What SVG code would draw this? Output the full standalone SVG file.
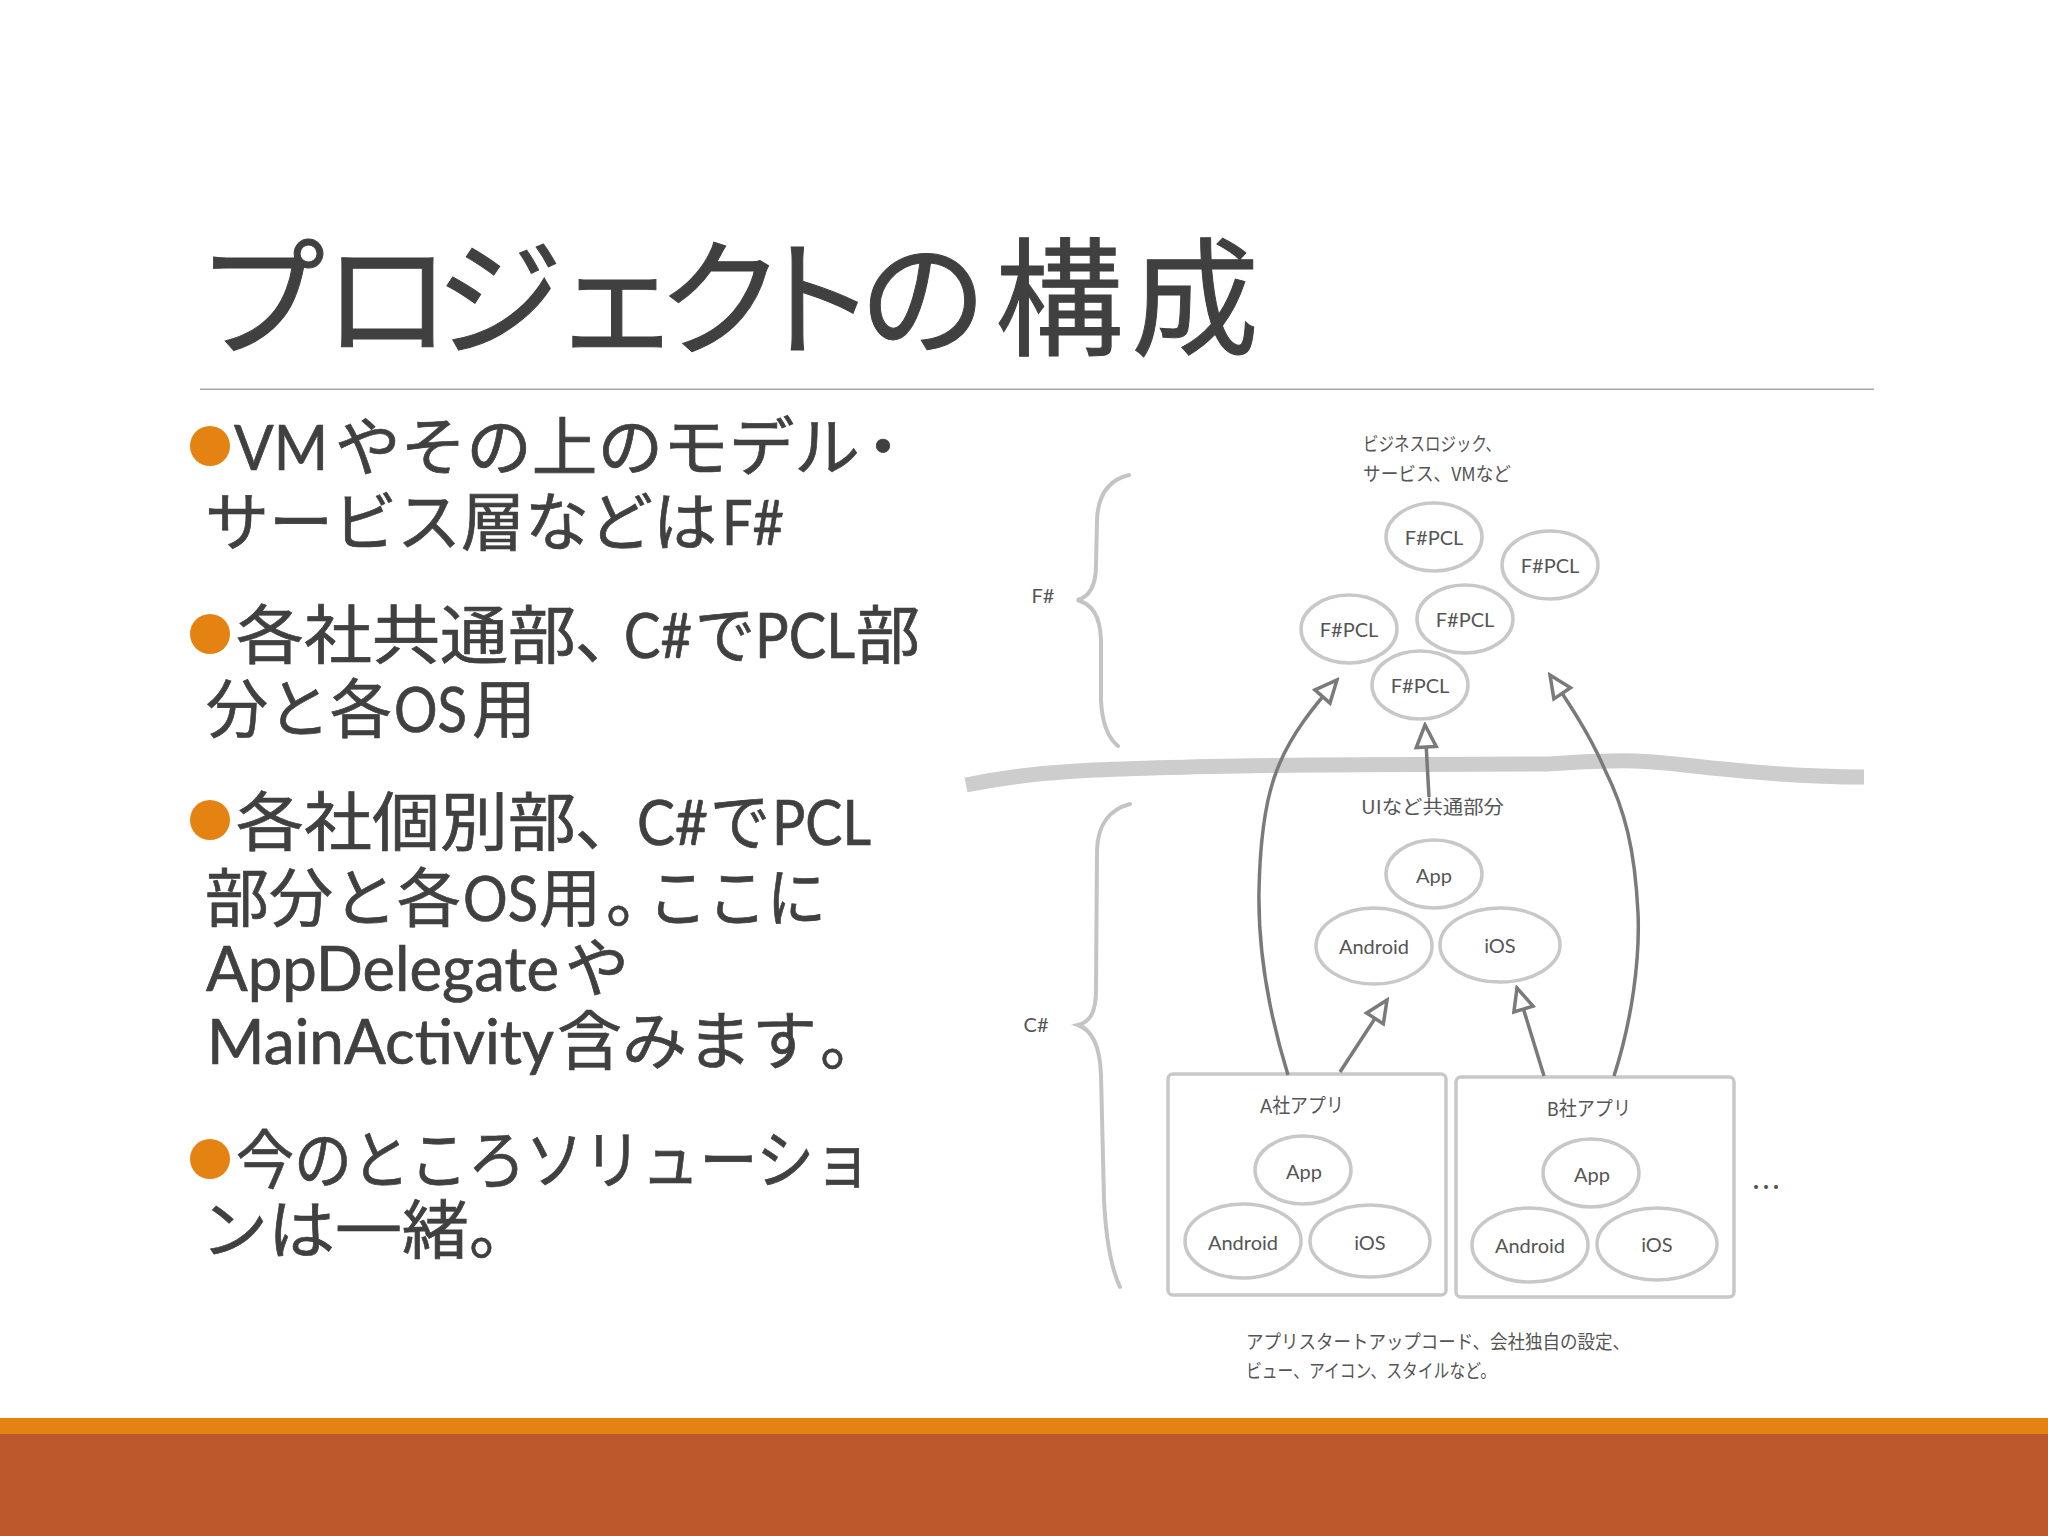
<svg xmlns="http://www.w3.org/2000/svg" width="2048" height="1536" viewBox="0 0 2048 1536">
<style>
.slide{fill:#404040;stroke:#404040;stroke-width:.7px;font-size:64px;font-family:"Noto Sans CJK JP",sans-serif}
.l{font-family:Lato,"Noto Sans",sans-serif;font-size:62px}
.title{fill:#404040;stroke:#404040;stroke-width:1px;font-size:128px;font-family:"Noto Sans CJK JP",sans-serif}
.bul{fill:#E48312}
.d{fill:#555;font-size:19px;font-family:"Noto Sans CJK JP",sans-serif}
.c{text-anchor:middle;font-family:Lato,"Noto Sans CJK JP",sans-serif;font-size:20px}
.e{fill:#fff;stroke:#c8c8c8;stroke-width:3.5}
.box{fill:#fff;stroke:#c8c8c8;stroke-width:3.5}
.brace{fill:none;stroke:#c4c4c4;stroke-width:4;stroke-linecap:round}
.ar{fill:none;stroke:#7a7a7a;stroke-width:3.5;marker-end:url(#h)}
</style>
<defs>
<marker id="h" viewBox="0 0 28 26" refX="25" refY="13" markerWidth="28" markerHeight="26" markerUnits="userSpaceOnUse" orient="auto">
<path d="M3,3 L25,13 L3,23 Z" fill="#fff" stroke="#7a7a7a" stroke-width="3.5" stroke-linejoin="miter"/>
</marker>
</defs>
<rect width="2048" height="1536" fill="#fff"/>
<rect y="1418" width="2048" height="16" fill="#E48312"/>
<rect y="1434" width="2048" height="102" fill="#BD582C"/>
<text class="title" x="197 323 435 553 657 749 859 995 1131" y="346">プロジェクトの構成</text>
<rect x="200" y="388.5" width="1674" height="1.5" fill="#a6a6a6"/>

<g id="bullets">
<circle class="bul" cx="210" cy="446" r="20"/>
<circle class="bul" cx="210" cy="634" r="20"/>
<circle class="bul" cx="210" cy="820" r="20"/>
<circle class="bul" cx="210" cy="1159" r="20"/>
<text class="slide" y="470"><tspan class="l" x="234" textLength="94" lengthAdjust="spacingAndGlyphs">VM</tspan><tspan x="335" textLength="525" lengthAdjust="spacingAndGlyphs">やその上のモデル</tspan><tspan x="851">・</tspan></text>
<text class="slide" y="545"><tspan x="205" textLength="512" lengthAdjust="spacingAndGlyphs">サービス層などは</tspan><tspan class="l" x="722" textLength="62" lengthAdjust="spacingAndGlyphs">F#</tspan></text>
<text class="slide" y="658"><tspan x="236" textLength="340" lengthAdjust="spacingAndGlyphs">各社共通部</tspan><tspan x="575">、</tspan><tspan class="l" x="624" textLength="68" lengthAdjust="spacingAndGlyphs">C#</tspan><tspan x="695" textLength="60" lengthAdjust="spacingAndGlyphs">で</tspan><tspan class="l" x="755" textLength="100" lengthAdjust="spacingAndGlyphs">PCL</tspan><tspan x="856">部</tspan></text>
<text class="slide" y="732"><tspan x="206" textLength="186" lengthAdjust="spacingAndGlyphs">分と各</tspan><tspan class="l" x="394" textLength="73" lengthAdjust="spacingAndGlyphs">OS</tspan><tspan x="472" textLength="64" lengthAdjust="spacingAndGlyphs">用</tspan></text>
<text class="slide" y="845"><tspan x="236" textLength="340" lengthAdjust="spacingAndGlyphs">各社個別部</tspan><tspan x="575">、</tspan><tspan class="l" x="637" textLength="71" lengthAdjust="spacingAndGlyphs">C#</tspan><tspan x="710" textLength="60" lengthAdjust="spacingAndGlyphs">で</tspan><tspan class="l" x="772" textLength="99" lengthAdjust="spacingAndGlyphs">PCL</tspan></text>
<text class="slide" y="921"><tspan x="205" textLength="256" lengthAdjust="spacingAndGlyphs">部分と各</tspan><tspan class="l" x="463" textLength="75" lengthAdjust="spacingAndGlyphs">OS</tspan><tspan x="539" textLength="62" lengthAdjust="spacingAndGlyphs">用</tspan><tspan x="606">。</tspan><tspan x="648" textLength="178" lengthAdjust="spacingAndGlyphs">ここに</tspan></text>
<text class="slide" y="991"><tspan class="l" x="206" textLength="353" lengthAdjust="spacingAndGlyphs">AppDelegate</tspan><tspan x="565">や</tspan></text>
<text class="slide" y="1064"><tspan class="l" x="207" textLength="347" lengthAdjust="spacingAndGlyphs">MainActivity</tspan><tspan x="557" textLength="260" lengthAdjust="spacingAndGlyphs">含みます</tspan><tspan x="820">。</tspan></text>
<text class="slide" x="236" y="1183" textLength="636" lengthAdjust="spacingAndGlyphs">今のところソリューショ</text>
<text class="slide" y="1253"><tspan x="201" textLength="268" lengthAdjust="spacingAndGlyphs">ンは一緒</tspan><tspan x="469">。</tspan></text>
</g>

<path id="divider" d="M966,785 C1000,778 1040,773 1077,771 C1150,767 1230,766 1312,765 C1400,765 1480,765 1547,764 C1580,762 1610,760 1635,761 C1665,762 1690,766 1723,769 C1770,774 1820,777 1864,777" fill="none" stroke="#cdcdcd" stroke-width="15"/>

<g id="braces">
<path class="brace" d="M1129,475 C1108,480 1098,495 1097,520 L1096,565 C1096,585 1090,597 1077,600 C1092,604 1100,615 1101,640 L1101,700 C1102,722 1108,738 1118,746"/>
<path class="brace" d="M1130,804 C1108,810 1098,825 1097,850 L1096,990 C1096,1012 1090,1022 1078,1025 C1092,1030 1100,1045 1101,1075 L1104,1200 C1106,1240 1112,1270 1120,1287"/>
<text class="d c" x="1043" y="603">F#</text>
<text class="d c" x="1036" y="1032">C#</text>
</g>

<g id="box-a"><rect class="box" x="1168" y="1074" width="278" height="221" rx="5"/><text class="d c" x="1302" y="1113" textLength="84" lengthAdjust="spacingAndGlyphs">A社アプリ</text></g>
<g id="box-b"><rect class="box" x="1456" y="1077" width="278" height="220" rx="5"/><text class="d c" x="1589" y="1116" textLength="84" lengthAdjust="spacingAndGlyphs">B社アプリ</text></g>

<g id="connectors">
<path class="ar" d="M1288,1075 C1268,1010 1258,950 1259,891 C1260,840 1265,800 1277,770 C1290,735 1315,705 1337,680"/>
<path class="ar" d="M1614,1076 C1632,1020 1640,960 1638,913 C1635,850 1625,810 1605,770 C1590,735 1570,705 1550,675"/>
<path class="ar" d="M1429,797 L1425,725"/>
<path class="ar" d="M1340,1072 L1387,1000"/>
<path class="ar" d="M1544,1076 L1517,988"/>
</g>

<g id="f1"><ellipse class="e" cx="1434" cy="537" rx="48" ry="34"/><text class="d c" x="1434" y="545">F#PCL</text></g>
<g id="f2"><ellipse class="e" cx="1550" cy="565" rx="48" ry="34"/><text class="d c" x="1550" y="573">F#PCL</text></g>
<g id="f3"><ellipse class="e" cx="1465" cy="619" rx="48" ry="34"/><text class="d c" x="1465" y="627">F#PCL</text></g>
<g id="f4"><ellipse class="e" cx="1349" cy="629" rx="48" ry="34"/><text class="d c" x="1349" y="637">F#PCL</text></g>
<g id="f5"><ellipse class="e" cx="1420" cy="685" rx="48" ry="34"/><text class="d c" x="1420" y="693">F#PCL</text></g>

<g id="s-app"><ellipse class="e" cx="1434" cy="874" rx="48" ry="34"/><text class="d c" x="1434" y="883">App</text></g>
<g id="s-android"><ellipse class="e" cx="1374" cy="946" rx="58" ry="38"/><text class="d c" x="1374" y="954">Android</text></g>
<g id="s-ios"><ellipse class="e" cx="1500" cy="945" rx="60" ry="37"/><text class="d c" x="1500" y="953">iOS</text></g>

<g id="a-app"><ellipse class="e" cx="1303" cy="1170" rx="48" ry="34"/><text class="d c" x="1304" y="1179">App</text></g>
<g id="a-android"><ellipse class="e" cx="1243" cy="1241" rx="58" ry="37"/><text class="d c" x="1243" y="1250">Android</text></g>
<g id="a-ios"><ellipse class="e" cx="1370" cy="1241" rx="60" ry="36"/><text class="d c" x="1370" y="1250">iOS</text></g>
<g id="b-app"><ellipse class="e" cx="1591" cy="1173" rx="48" ry="34"/><text class="d c" x="1592" y="1182">App</text></g>
<g id="b-android"><ellipse class="e" cx="1530" cy="1245" rx="58" ry="37"/><text class="d c" x="1530" y="1253">Android</text></g>
<g id="b-ios"><ellipse class="e" cx="1657" cy="1244" rx="60" ry="36"/><text class="d c" x="1657" y="1252">iOS</text></g>

<g id="labels">
<text class="d" x="1363" y="451" textLength="138" lengthAdjust="spacingAndGlyphs">ビジネスロジック、</text>
<text class="d" x="1363" y="481" textLength="148" lengthAdjust="spacingAndGlyphs">サービス、VMなど</text>
<text class="d" x="1361" y="814" textLength="143" lengthAdjust="spacingAndGlyphs">UIなど共通部分</text>
<text class="d" x="1246" y="1349" textLength="384" lengthAdjust="spacingAndGlyphs">アプリスタートアップコード、会社独自の設定、</text>
<text class="d" x="1246" y="1378" textLength="250" lengthAdjust="spacingAndGlyphs">ビュー、アイコン、スタイルなど。</text>
<text class="d" x="1766" y="1198" text-anchor="middle" style="font-size:30px">…</text>
</g>
</svg>
